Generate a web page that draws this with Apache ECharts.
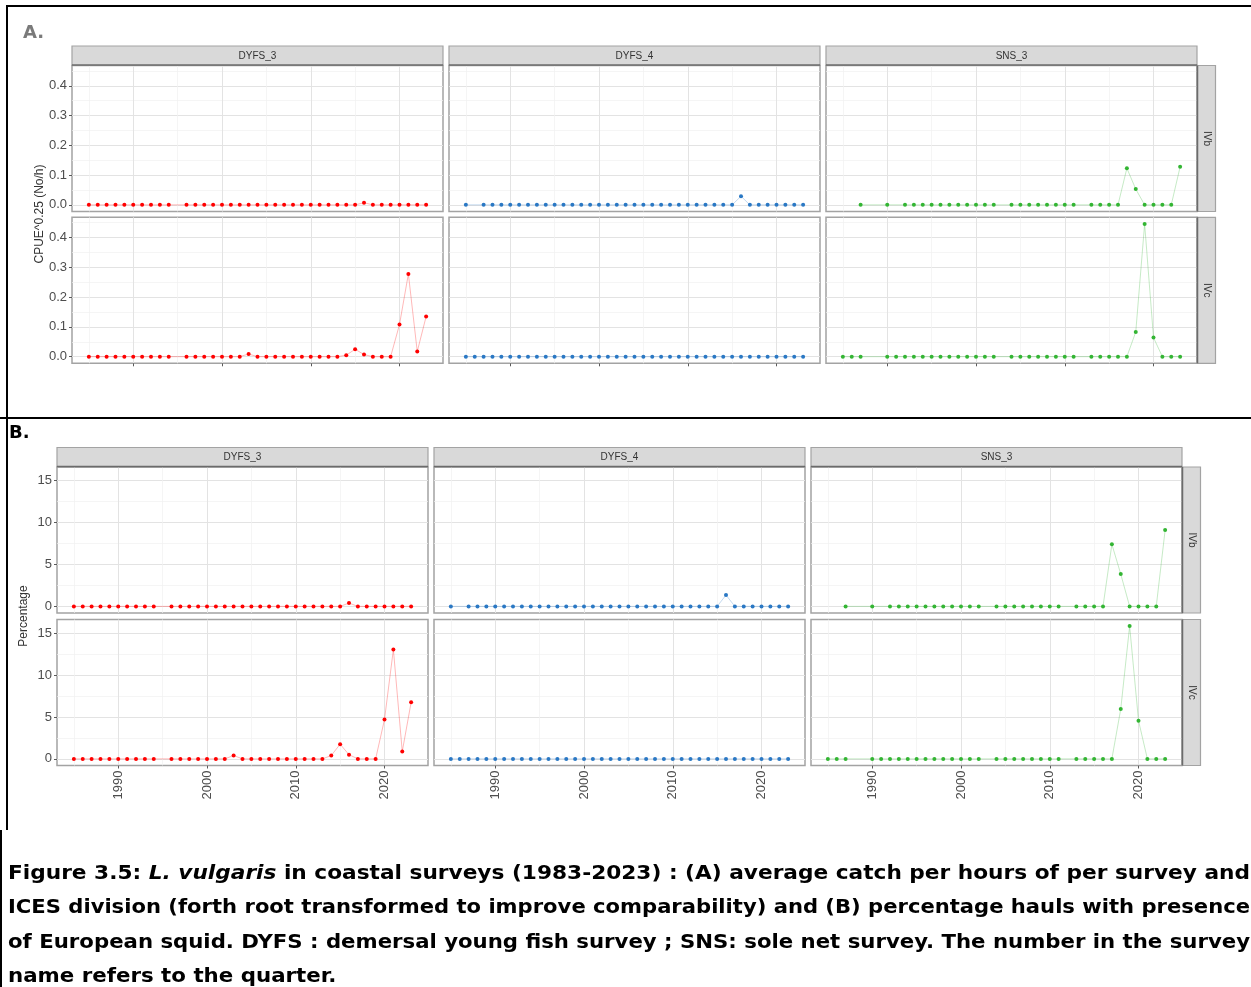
<!DOCTYPE html>
<html><head><meta charset="utf-8">
<script src="https://cdn.jsdelivr.net/npm/echarts@6.0.0/dist/echarts.min.js"></script>
<style>html,body{margin:0;padding:0;background:#fff}#c{width:1251px;height:987px}</style>
</head><body><div id="c"></div>
<script>
// ---------- data ----------
const years = [1985,1986,1987,1988,1989,1990,1991,1992,1993,1994,1995,1996,1997,1998,1999,2000,2001,2002,2003,2004,2005,2006,2007,2008,2009,2010,2011,2012,2013,2014,2015,2016,2017,2018,2019,2020,2021,2022,2023];
const surveys = ['DYFS_3','DYFS_4','SNS_3'];
const divisions = ['IVb','IVc'];
const yearTicks = [1990,2000,2010,2020];
const yearMinor = [1985,1995,2005,2015];
const cpueTicks = [0,0.1,0.2,0.3,0.4];
const cpueMinor = [0.05,0.15,0.25,0.35,0.45];
const pctTicks = [0,5,10,15];
const pctMinor = [2.5,7.5,12.5];

// A: CPUE^0.25 (No/h)
const A_DYFS_3_IVb = [0,0,0,0,0,0,0,0,0,0,null,0,0,0,0,0,0,0,0,0,0,0,0,0,0,0,0,0,0,0,0,0.007,0,0,0,0,0,0,0];
const A_DYFS_3_IVc = [0,0,0,0,0,0,0,0,0,0,null,0,0,0,0,0,0,0,0.009,0,0,0,0,0,0,0,0,0,0,0.005,0.025,0.007,0,0,0,0.108,0.278,0.017,0.135];
const A_DYFS_4_IVb = [0,null,0,0,0,0,0,0,0,0,0,0,0,0,0,0,0,0,0,0,0,0,0,0,0,0,0,0,0,0,0,0.029,0,0,0,0,0,0,0];
const A_DYFS_4_IVc = [0,0,0,0,0,0,0,0,0,0,0,0,0,0,0,0,0,0,0,0,0,0,0,0,0,0,0,0,0,0,0,0,0,0,0,0,0,0,0];
const A_SNS_3_IVb = [null,null,0,null,null,0,null,0,0,0,0,0,0,0,0,0,0,0,null,0,0,0,0,0,0,0,0,null,0,0,0,0,0.123,0.053,0,0,0,0,0.128];
const A_SNS_3_IVc = [0,0,0,null,null,0,0,0,0,0,0,0,0,0,0,0,0,0,null,0,0,0,0,0,0,0,0,null,0,0,0,0,0,0.083,0.446,0.064,0,0,0];

// B: Percentage
const B_DYFS_3_IVb = [0,0,0,0,0,0,0,0,0,0,null,0,0,0,0,0,0,0,0,0,0,0,0,0,0,0,0,0,0,0,0,0.4,0,0,0,0,0,0,0];
const B_DYFS_3_IVc = [0,0,0,0,0,0,0,0,0,0,null,0,0,0,0,0,0,0,0.4,0,0,0,0,0,0,0,0,0,0,0.4,1.75,0.5,0,0,0,4.7,13.05,0.87,6.75];
const B_DYFS_4_IVb = [0,null,0,0,0,0,0,0,0,0,0,0,0,0,0,0,0,0,0,0,0,0,0,0,0,0,0,0,0,0,0,1.35,0,0,0,0,0,0,0];
const B_DYFS_4_IVc = [0,0,0,0,0,0,0,0,0,0,0,0,0,0,0,0,0,0,0,0,0,0,0,0,0,0,0,0,0,0,0,0,0,0,0,0,0,0,0];
const B_SNS_3_IVb = [null,null,0,null,null,0,null,0,0,0,0,0,0,0,0,0,0,0,null,0,0,0,0,0,0,0,0,null,0,0,0,0,7.4,3.85,0,0,0,0,9.1];
const B_SNS_3_IVc = [0,0,0,null,null,0,0,0,0,0,0,0,0,0,0,0,0,0,null,0,0,0,0,0,0,0,0,null,0,0,0,0,0,5.95,15.83,4.56,0,0,0];

const surveyColors = ['#ff0000','#2a78c4','#33b533'];
const captionLines = [
  ['Figure 3.5: ', 'L. vulgaris', ' in coastal surveys (1983-2023) : (A) average catch per hours of per survey and'],
  ['ICES division (forth root transformed to improve comparability) and (B) percentage hauls with presence'],
  ['of European squid. DYFS : demersal young fish survey ; SNS: sole net survey. The number in the survey'],
  ['name refers to the quarter.']
];

// ---------- layout ----------
const X_MIN = 1983.1, X_MAX = 2024.9;
const FIGS = [
  { label:'A.', labelPos:[23,33], labelColor:'#7a7a7a', yTitle:'CPUE^0.25 (No/h)', yTitlePos:[40,214],
    lefts:[72,449,826], tops:[65.5,217.3], w:371, h:146, yMin:-0.0223, yMax:0.4683,
    ticks:cpueTicks, minor:cpueMinor, fmt:v=>Number(v).toFixed(1), xLabels:false,
    series:[[A_DYFS_3_IVb,A_DYFS_4_IVb,A_SNS_3_IVb],[A_DYFS_3_IVc,A_DYFS_4_IVc,A_SNS_3_IVc]] },
  { label:'B.', labelPos:[9,433], labelColor:'#000', yTitle:'Percentage', yTitlePos:[24,616],
    lefts:[57,434,811], tops:[467,619.5], w:371, h:146, yMin:-0.79, yMax:16.62,
    ticks:pctTicks, minor:pctMinor, fmt:v=>String(Math.round(v)), xLabels:true,
    series:[[B_DYFS_3_IVb,B_DYFS_4_IVb,B_SNS_3_IVb],[B_DYFS_3_IVc,B_DYFS_4_IVc,B_SNS_3_IVc]] }
];

const grid=[], xAxis=[], yAxis=[], series=[], gfx=[];
const FONT = 'Liberation Sans';
const MAJOR = '#e3e3e3', MINORC = '#f1f1f1', TICKC = '#5a5a5a', LABC = '#4d4d4d';

FIGS.forEach(F => {
  F.tops.forEach((top, r) => {
    F.lefts.forEach((left, c) => {
      const gi = grid.length;
      grid.push({left:left, top:top, width:F.w, height:F.h, show:true, backgroundColor:'#fff',
                 borderColor:'#a3a3a3', borderWidth:1.5});
      const bottomRow = r === F.tops.length-1;
      xAxis.push({gridIndex:gi, type:'value', min:X_MIN, max:X_MAX, position:'bottom',
        axisLine:{show:false, onZero:false},
        axisTick:{show:bottomRow, customValues:yearTicks, length:3, lineStyle:{color:TICKC}},
        axisLabel:{show:bottomRow && F.xLabels, customValues:yearTicks, rotate:90, margin:5,
                   formatter:v=>String(Math.round(v)),
                   fontFamily:FONT, fontSize:13, color:LABC},
        splitLine:{show:true, lineStyle:{color:MAJOR, width:1}}});
      xAxis.push({gridIndex:gi, type:'value', min:X_MIN, max:X_MAX, position:'top',
        axisLine:{show:false, onZero:false}, axisTick:{show:false, customValues:yearMinor}, axisLabel:{show:false},
        splitLine:{show:true, lineStyle:{color:MINORC, width:0.7}}});
      yAxis.push({gridIndex:gi, type:'value', min:F.yMin, max:F.yMax, position:'left',
        axisLine:{show:false, onZero:false},
        axisTick:{show:c===0, customValues:F.ticks, length:3, lineStyle:{color:TICKC}},
        axisLabel:{show:c===0, customValues:F.ticks, formatter:F.fmt, margin:5,
                   fontFamily:FONT, fontSize:13, color:LABC},
        splitLine:{show:true, lineStyle:{color:MAJOR, width:1}}});
      yAxis.push({gridIndex:gi, type:'value', min:F.yMin, max:F.yMax, position:'right',
        axisLine:{show:false, onZero:false}, axisTick:{show:false, customValues:F.minor}, axisLabel:{show:false},
        splitLine:{show:true, lineStyle:{color:MINORC, width:0.7}}});
      const vals = F.series[r][c];
      const pts = [];
      years.forEach((yr,k) => { if (vals[k] !== null) pts.push([yr, vals[k]]); });
      series.push({type:'line', xAxisIndex:2*gi, yAxisIndex:2*gi, data:pts,
        symbol:'circle', symbolSize:4, showSymbol:true,
        itemStyle:{color:surveyColors[c]},
        lineStyle:{color:surveyColors[c], width:1, opacity:0.28}, z:5});
    });
  });
  // top strips
  F.lefts.forEach((left,c) => {
    gfx.push({type:'rect', shape:{x:left, y:F.tops[0]-19.5, width:F.w, height:19.5},
      style:{fill:'#d9d9d9', stroke:'#a3a3a3', lineWidth:1.2}, z:10});
    gfx.push({type:'line', shape:{x1:left, y1:F.tops[0]-0.5, x2:left+F.w, y2:F.tops[0]-0.5},
      style:{stroke:'#6b6b6b', lineWidth:1.5}, z:11});
    gfx.push({type:'text', x:left+F.w/2, y:F.tops[0]-9.5, z:12,
      style:{text:surveys[c], fill:'#333', font:'10px '+FONT, align:'center', verticalAlign:'middle'}});
  });
  // right strips
  const rl = F.lefts[2]+F.w;
  F.tops.forEach((top,r) => {
    gfx.push({type:'rect', shape:{x:rl, y:top, width:18.5, height:F.h},
      style:{fill:'#d9d9d9', stroke:'#a3a3a3', lineWidth:1.2}, z:10});
    gfx.push({type:'line', shape:{x1:rl+0.5, y1:top, x2:rl+0.5, y2:top+F.h},
      style:{stroke:'#6b6b6b', lineWidth:1.5}, z:11});
    gfx.push({type:'text', x:rl+9.5, y:top+F.h/2, rotation:-Math.PI/2, z:12,
      style:{text:divisions[r], fill:'#333', font:'10px '+FONT, align:'center', verticalAlign:'middle'}});
  });
  // y title
  gfx.push({type:'text', x:F.yTitlePos[0], y:F.yTitlePos[1], rotation:Math.PI/2, z:12,
    style:{text:F.yTitle, fill:'#333', font:'12px '+FONT, align:'center', verticalAlign:'middle'}});
  // figure label
  gfx.push({type:'text', x:F.labelPos[0], y:F.labelPos[1], z:12,
    style:{text:F.label, fill:F.labelColor, font:'bold 18px "DejaVu Sans"', align:'left', verticalAlign:'middle'}});
});

// frame lines
const frame = [[7,6,1251,6],[7,5,7,418],[0,418,1251,418],[7,418,7,830],[1,830,1,987]];
frame.forEach(f => gfx.push({type:'line', shape:{x1:f[0],y1:f[1],x2:f[2],y2:f[3]},
  style:{stroke:'#000', lineWidth:2}, z:20}));

// caption: justified lines (1-3 span the page width), last line at the mean scale
const CAP_SIZE = 19, CAP_LEFT = 8, CAP_FULL_WIDTH = 1242;
const capY = [874, 908.5, 943, 977];
const meas = document.createElement('canvas').getContext('2d');
function tw(t, italic){ meas.font = (italic?'italic ':'')+'bold '+CAP_SIZE+'px "DejaVu Sans"'; return meas.measureText(t).width; }
const lineW = captionLines.map(parts => parts.reduce((s,p,j)=>s+tw(p, parts.length===3 && j===1), 0));
const scales = lineW.map(wd => CAP_FULL_WIDTH / wd);
const meanScale = (scales[0]+scales[1]+scales[2])/3;
scales[3] = meanScale;
const capRich = {
  b:{fontFamily:'DejaVu Sans', fontWeight:'bold', fontSize:CAP_SIZE, fill:'#000'},
  i:{fontFamily:'DejaVu Sans', fontWeight:'bold', fontStyle:'italic', fontSize:CAP_SIZE, fill:'#000'}
};
captionLines.forEach((parts,k) => {
  const txt = parts.map((p,j) => (parts.length===3 && j===1) ? '{i|'+p+'}' : '{b|'+p+'}').join('');
  gfx.push({type:'text', x:CAP_LEFT, y:capY[k], scaleX:scales[k], z:20,
    style:{text:txt, rich:capRich, align:'left', verticalAlign:'middle'}});
});

const chart = echarts.init(document.getElementById('c'), null, {renderer:'canvas'});
chart.setOption({animation:false, grid, xAxis, yAxis, series, graphic:{elements:gfx}});
</script>
</body></html>
